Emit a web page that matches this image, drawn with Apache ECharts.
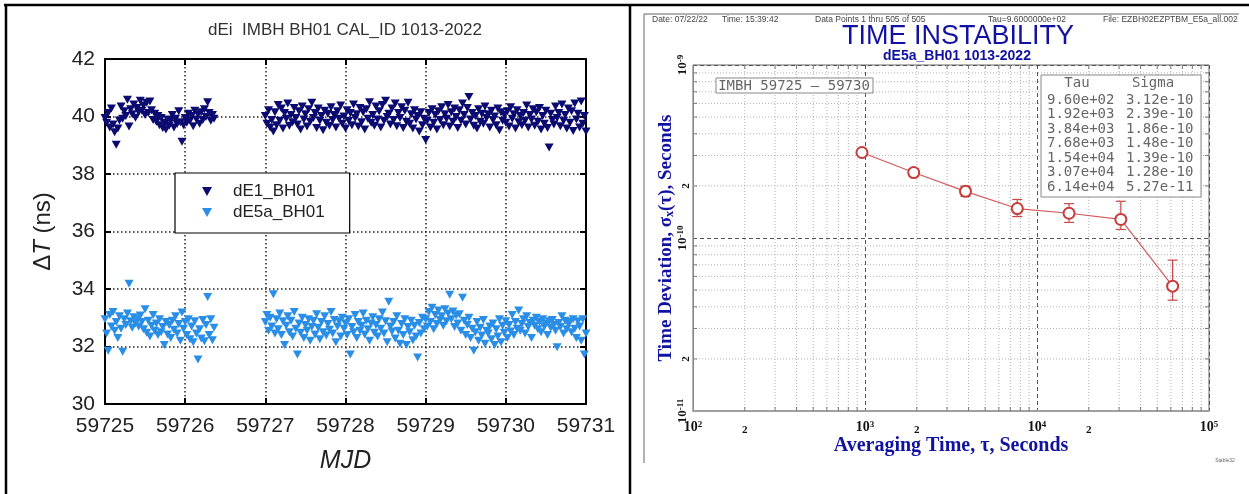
<!DOCTYPE html>
<html>
<head>
<meta charset="utf-8">
<script src="https://cdn.jsdelivr.net/npm/echarts@6/dist/echarts.min.js"></script>
<style>
html, body { margin: 0; padding: 0; background: #fff; }
#chart { width: 1249px; height: 494px; }
</style>
</head>
<body>
<div id="chart"></div>
<script>
// ---- left panel: dEi calibration runs (one point every 0.02 d) ----
var seg1Start = 59725.0;
var seg2Start = 59727.0;
var stepDays = 0.02;
var mjdTicks = [59725, 59726, 59727, 59728, 59729, 59730, 59731];

var dE1Seg1 = [39.95, 39.78, 40.12, 39.62, 40.28, 39.72, 39.45, 39.02, 39.58, 39.86,
  40.35, 39.92, 40.18, 40.02, 40.58, 39.65, 40.25, 40.08, 40.42, 39.96,
  40.30, 40.15, 40.55, 40.20, 40.38, 40.05, 40.48, 40.12, 40.52, 40.22,
  39.88, 40.10, 39.82, 40.02, 39.70, 39.95, 39.60, 39.78, 39.55, 39.90,
  39.68, 39.85, 40.05, 39.62, 39.92, 39.74, 40.18, 39.80, 39.12, 39.70,
  39.95, 39.78, 40.10, 39.85, 40.02, 39.66, 40.20, 39.90, 40.08, 39.75,
  40.15, 39.88, 40.25, 39.98, 40.50, 40.12, 39.85, 40.05, 39.92];

var dE1Seg2 = [40.02, 39.75, 40.22, 39.62, 39.88, 39.48, 40.15, 39.70, 40.40, 39.85,
  40.28, 39.58, 40.12, 39.92, 40.45, 39.68, 40.05, 39.80, 40.30, 39.95,
  39.72, 40.18, 39.55, 40.35, 39.90, 40.08, 39.65, 40.25, 39.82, 40.48,
  39.95, 40.12, 39.60, 40.28, 39.85, 40.02, 39.52, 40.20, 39.78, 40.10,
  39.68, 40.32, 39.88, 40.05, 39.62, 40.18, 39.92, 40.38, 39.75, 40.00,
  39.58, 40.22, 39.85, 40.12, 39.70, 40.42, 39.95, 40.08, 39.65, 40.30,
  39.80, 40.15, 39.55, 40.25, 39.92, 40.50, 39.78, 40.05, 39.68, 40.35,
  39.90, 40.18, 39.62, 40.40, 39.85, 40.55, 39.98, 40.10, 39.72, 40.28,
  39.88, 40.45, 39.66, 40.12, 39.95, 40.32, 39.60, 40.20, 39.82, 40.48,
  39.75, 40.08, 39.58, 40.22, 39.90, 40.02, 39.48, 40.15, 39.70, 39.92,
  39.18, 39.85, 40.12, 39.62, 40.25, 39.78, 40.05, 39.55, 40.18, 39.88,
  40.32, 39.70, 40.08, 39.92, 40.40, 39.65, 40.15, 39.82, 40.28, 39.98,
  39.60, 40.22, 39.85, 40.45, 40.05, 39.72, 40.30, 40.68, 39.90, 40.12,
  39.68, 40.02, 39.58, 40.25, 39.82, 40.10, 39.75, 40.35, 39.95, 40.08,
  39.62, 40.20, 39.88, 40.00, 39.70, 40.28, 39.52, 40.15, 39.85, 40.05,
  39.78, 40.18, 39.65, 40.32, 39.92, 40.08, 39.58, 40.22, 39.80, 40.02,
  39.70, 40.12, 39.85, 40.38, 39.62, 40.05, 39.90, 40.25, 39.68, 40.15,
  39.82, 40.30, 39.55, 40.02, 39.75, 40.20, 39.60, 38.92, 40.10, 39.88,
  39.72, 40.35, 39.95, 40.12, 39.66, 40.42, 39.85, 40.05, 39.58, 40.28,
  39.78, 40.18, 39.50, 40.45, 39.90, 40.10, 39.62, 40.52, 39.75, 40.02,
  39.48];

var dE5aSeg1 = [32.95, 32.45, 31.85, 33.10, 32.70, 33.20, 32.55, 32.85, 32.30, 33.05,
  32.62, 31.82, 32.95, 32.75, 33.15, 34.18, 32.88, 32.65, 33.02, 32.80,
  32.95, 32.70, 33.08, 32.85, 32.60, 33.30, 32.48, 32.90, 32.35, 32.72,
  33.10, 32.55, 32.80, 32.40, 32.95, 32.50, 32.68, 32.05, 32.85, 32.42,
  32.75, 32.30, 32.90, 32.58, 33.05, 32.45, 32.78, 32.20, 33.18, 32.62,
  32.85, 32.40, 32.95, 32.25, 32.70, 32.15, 32.88, 32.45, 31.55, 32.60,
  32.28, 32.92, 32.18, 32.75, 33.72, 32.40, 32.95, 32.22, 32.65];

var dE5aSeg2 = [32.85, 33.10, 32.55, 33.00, 32.70, 33.82, 32.45, 32.95, 32.60, 33.15,
  32.40, 32.88, 32.05, 32.72, 33.05, 32.50, 32.90, 32.35, 33.20, 32.62,
  31.72, 32.80, 32.48, 33.00, 32.30, 32.75, 32.55, 32.95, 32.20, 32.68,
  32.90, 32.42, 33.12, 32.65, 32.25, 32.85, 32.50, 33.05, 32.38, 32.78,
  32.58, 33.20, 32.45, 32.92, 32.15, 32.70, 32.88, 32.35, 33.00, 32.62,
  32.80, 32.40, 32.95, 31.72, 32.68, 32.50, 33.10, 32.30, 32.85, 32.55,
  32.72, 33.15, 32.42, 32.90, 32.60, 32.20, 32.80, 33.02, 32.48, 32.75,
  32.35, 32.95, 32.62, 33.18, 32.45, 32.88, 32.15, 33.56, 32.70, 32.52,
  32.85, 32.28, 33.05, 32.55, 32.10, 32.78, 32.40, 32.95, 32.05, 32.68,
  32.50, 32.90, 32.22, 32.72, 32.35, 31.62, 32.82, 32.45, 33.00, 32.60,
  32.95, 32.70, 33.20, 32.85, 33.35, 32.60, 33.10, 32.78, 33.25, 32.92,
  33.05, 32.72, 33.30, 32.88, 33.15, 33.80, 32.95, 33.22, 32.68, 33.08,
  32.80, 33.12, 32.55, 33.70, 32.90, 32.40, 32.75, 33.00, 32.30, 32.62,
  31.85, 32.50, 32.85, 32.20, 32.65, 32.38, 32.92, 32.10, 32.55, 32.45,
  32.70, 32.25, 32.80, 32.05, 32.60, 32.35, 32.95, 32.15, 32.72, 32.48,
  32.88, 32.30, 32.75, 32.52, 33.10, 32.40, 32.85, 32.62, 33.25, 32.55,
  32.78, 32.95, 32.45, 33.05, 32.68, 32.82, 32.30, 32.90, 32.72, 33.00,
  32.60, 32.85, 32.50, 32.95, 32.70, 32.80, 32.40, 32.88, 32.65, 32.92,
  32.75, 32.55, 31.97, 32.82, 32.68, 33.05, 32.45, 32.90, 32.60, 32.78,
  32.85, 32.50, 32.95, 32.62, 32.30, 32.88, 32.70, 32.20, 32.95, 31.72,
  32.45];

// ---- right panel: Stable32 TDEV ----
var tauValues = [960, 1920, 3840, 7680, 15360, 30720, 61440];
var sigmaValues = [3.12e-10, 2.39e-10, 1.86e-10, 1.48e-10, 1.39e-10, 1.28e-10, 5.27e-11];
var sigmaLow = [3.00e-10, 2.27e-10, 1.74e-10, 1.33e-10, 1.23e-10, 1.12e-10, 4.37e-11];
var sigmaHigh = [3.25e-10, 2.52e-10, 1.99e-10, 1.67e-10, 1.58e-10, 1.63e-10, 7.45e-11];
var tauDecades = [100, 1000, 10000];
var sigmaDecades = [1e-11, 1e-10];
var mantissas = [2, 3, 4, 5, 6, 7, 8, 9];

var navy = '#0a0a70';
var sky = '#2a8ee6';
var stableBlue = '#1212a2';
var red = '#c83c3c';
var triangle = 'path://M0,0L10,0L5,9Z';

function seriesPoints(start, ys) {
  var out = [];
  for (var i = 0; i < ys.length; i++) {
    out.push([Math.round((start + i * stepDays) * 1000) / 1000, ys[i]]);
  }
  return out;
}

function sci(v) {
  var p = v.toExponential(2).split('e');
  var e = parseInt(p[1], 10);
  return p[0] + 'e' + (e < 0 ? '-' : '+') + (Math.abs(e) < 10 ? '0' : '') + Math.abs(e);
}

var xMinor = [], yMinor = [];
tauDecades.forEach(function (d) {
  mantissas.forEach(function (m) { xMinor.push([d * m, 1e-10, m]); });
});
sigmaDecades.forEach(function (d) {
  mantissas.forEach(function (m) { yMinor.push([1000, d * m, m]); });
});

var errData = tauValues.map(function (t, i) { return [t, sigmaLow[i], sigmaHigh[i]]; });
var tdevData = tauValues.map(function (t, i) { return [t, sigmaValues[i]]; });

function minorX(params, api) {
  var v = api.value(0);
  var top = api.coord([v, 1e-9]);
  var bot = api.coord([v, 1e-11]);
  var kids = [
    { type: 'line', shape: { x1: top[0], y1: top[1], x2: bot[0], y2: bot[1] },
      style: { stroke: '#b0b0b0', lineWidth: 1, lineDash: [1, 2] } },
    { type: 'line', shape: { x1: bot[0], y1: bot[1], x2: bot[0], y2: bot[1] - 4 },
      style: { stroke: '#777', lineWidth: 1 } },
    { type: 'line', shape: { x1: top[0], y1: top[1], x2: top[0], y2: top[1] + 4 },
      style: { stroke: '#777', lineWidth: 1 } }
  ];
  if (api.value(2) === 2) {
    kids.push({ type: 'text', x: bot[0], y: bot[1] + 19,
      style: { text: '2', fill: '#111', font: 'bold 11px "Liberation Serif"', align: 'center', verticalAlign: 'middle' } });
  }
  return { type: 'group', children: kids };
}

function minorY(params, api) {
  var v = api.value(1);
  var l = api.coord([100, v]);
  var r = api.coord([100000, v]);
  var kids = [
    { type: 'line', shape: { x1: l[0], y1: l[1], x2: r[0], y2: r[1] },
      style: { stroke: '#b0b0b0', lineWidth: 1, lineDash: [1, 2] } },
    { type: 'line', shape: { x1: l[0], y1: l[1], x2: l[0] + 4, y2: l[1] },
      style: { stroke: '#777', lineWidth: 1 } },
    { type: 'line', shape: { x1: r[0], y1: r[1], x2: r[0] - 4, y2: r[1] },
      style: { stroke: '#777', lineWidth: 1 } }
  ];
  if (api.value(2) === 2) {
    kids.push({ type: 'text', x: l[0] - 7, y: l[1], rotation: Math.PI / 2,
      style: { text: '2', fill: '#111', font: 'bold 11px "Liberation Serif"', align: 'center', verticalAlign: 'middle' } });
  }
  return { type: 'group', children: kids };
}

function errorBar(params, api) {
  var t = api.value(0);
  var lo = api.coord([t, api.value(1)]);
  var hi = api.coord([t, api.value(2)]);
  var st = { stroke: '#c84848', lineWidth: 1.2 };
  return { type: 'group', children: [
    { type: 'line', shape: { x1: lo[0], y1: lo[1], x2: hi[0], y2: hi[1] }, style: st },
    { type: 'line', shape: { x1: lo[0] - 5, y1: lo[1], x2: lo[0] + 5, y2: lo[1] }, style: st },
    { type: 'line', shape: { x1: hi[0] - 5, y1: hi[1], x2: hi[0] + 5, y2: hi[1] }, style: st }
  ] };
}

function logLabel(v) {
  return '10{s|' + Math.round(Math.log10(v)) + '}';
}

// graphic texts of the Stable32 page
var smallFont = '8.5px "Liberation Sans"';
var monoFont = '14px "DejaVu Sans Mono"';
var graphics = [
  { type: 'line', shape: { x1: 4, y1: 5, x2: 1249, y2: 5 }, style: { stroke: '#000', lineWidth: 2.5 } },
  { type: 'line', shape: { x1: 6, y1: 5, x2: 6, y2: 494 }, style: { stroke: '#000', lineWidth: 2.5 } },
  { type: 'line', shape: { x1: 630, y1: 5, x2: 630, y2: 494 }, style: { stroke: '#000', lineWidth: 2.5 } },
  { type: 'line', shape: { x1: 644, y1: 14, x2: 1239, y2: 14 }, style: { stroke: '#666', lineWidth: 1 } },
  { type: 'line', shape: { x1: 644, y1: 14, x2: 644, y2: 463 }, style: { stroke: '#666', lineWidth: 1 } },
  { type: 'text', x: 345, y: 30, style: { text: 'dEi  IMBH BH01 CAL_ID 1013-2022', font: '17px "Liberation Sans"', fill: '#333', align: 'center', verticalAlign: 'middle' } },
  { type: 'text', x: 652, y: 20, style: { text: 'Date: 07/22/22', font: smallFont, fill: '#444', verticalAlign: 'middle' } },
  { type: 'text', x: 722, y: 20, style: { text: 'Time: 15:39:42', font: smallFont, fill: '#444', verticalAlign: 'middle' } },
  { type: 'text', x: 815, y: 20, style: { text: 'Data Points 1 thru 505 of 505', font: smallFont, fill: '#444', verticalAlign: 'middle' } },
  { type: 'text', x: 988, y: 20, style: { text: 'Tau=9.6000000e+02', font: smallFont, fill: '#444', verticalAlign: 'middle' } },
  { type: 'text', x: 1103, y: 20, style: { text: 'File: EZBH02EZPTBM_E5a_all.002', font: smallFont, fill: '#444', verticalAlign: 'middle' } },
  { type: 'text', x: 958, y: 37, style: { text: 'TIME INSTABILITY', font: '27px "Liberation Sans"', fill: stableBlue, align: 'center', verticalAlign: 'middle' } },
  { type: 'text', x: 957, y: 56, style: { text: 'dE5a_BH01 1013-2022', font: 'bold 14px "Liberation Sans"', fill: stableBlue, align: 'center', verticalAlign: 'middle' } },
  { type: 'rect', shape: { x: 716, y: 78, width: 157, height: 15 }, style: { fill: '#fff', stroke: '#888', lineWidth: 1 } },
  { type: 'text', x: 794, y: 86, style: { text: 'IMBH 59725 \u2013 59730', font: monoFont, fill: '#666', align: 'center', verticalAlign: 'middle' } },
  { type: 'rect', shape: { x: 1041, y: 75, width: 160, height: 122 }, style: { fill: '#fff', stroke: '#888', lineWidth: 1 } },
  { type: 'text', x: 1077, y: 83, style: { text: 'Tau', font: monoFont, fill: '#666', align: 'center', verticalAlign: 'middle' } },
  { type: 'text', x: 1153, y: 83, style: { text: 'Sigma', font: monoFont, fill: '#666', align: 'center', verticalAlign: 'middle' } },
  { type: 'text', x: 1225, y: 461, style: { text: 'Stable32', font: '5px "Liberation Sans"', fill: '#666', align: 'center', verticalAlign: 'middle' } }
];
tauValues.forEach(function (t, i) {
  graphics.push({ type: 'text', x: 1047, y: 100 + i * 14.5, style: { text: sci(t), font: monoFont, fill: '#666', verticalAlign: 'middle' } });
  graphics.push({ type: 'text', x: 1126, y: 100 + i * 14.5, style: { text: sci(sigmaValues[i]), font: monoFont, fill: '#666', verticalAlign: 'middle' } });
});

var leftLabel = { fontFamily: 'Liberation Sans', fontSize: 21, color: '#222', formatter: function (v) { return String(v); } };
var dotted = { show: true, lineStyle: { color: '#222', width: 1.5, type: [1.5, 2.5] } };
var blackLine = { show: true, lineStyle: { color: '#000', width: 2 } };
var inTicks = { show: true, inside: true, length: 6, lineStyle: { color: '#000', width: 2 } };

var chart = echarts.init(document.getElementById('chart'));
chart.setOption({
  animation: false,
  backgroundColor: '#fff',
  legend: {
    data: [
      { name: 'dE1_BH01', icon: triangle },
      { name: 'dE5a_BH01', icon: triangle }
    ],
    orient: 'vertical', left: 175, top: 173,
    padding: [10, 25, 12, 27], itemGap: 4, itemWidth: 10, itemHeight: 9,
    borderColor: '#000', borderWidth: 1.2, backgroundColor: '#fff',
    formatter: function (n) { return '{n|' + n + '}'; },
    textStyle: { fontFamily: 'Liberation Sans', fontSize: 17, color: '#222',
      rich: { n: { fontFamily: 'Liberation Sans', fontSize: 17, color: '#222', padding: [0, 0, 0, 16] } } }
  },
  grid: [
    { left: 105, top: 59, width: 481, height: 345, outerBoundsMode: 'none' },
    { left: 693, top: 65, width: 516, height: 346, outerBoundsMode: 'none',
      show: true, borderColor: '#666', borderWidth: 1 }
  ],
  xAxis: [
    { type: 'value', gridIndex: 0, min: mjdTicks[0], max: mjdTicks[mjdTicks.length - 1], interval: 1,
      name: 'MJD', nameLocation: 'middle', nameGap: 45, nameMoveOverlap: false,
      nameTextStyle: { fontFamily: 'Liberation Sans', fontSize: 25, fontStyle: 'italic', color: '#222' },
      axisLine: blackLine, axisTick: inTicks, splitLine: dotted,
      axisLabel: Object.assign({ margin: 12 }, leftLabel) },
    { type: 'value', gridIndex: 0, position: 'top', min: mjdTicks[0], max: mjdTicks[mjdTicks.length - 1], interval: 1,
      axisLine: blackLine, axisTick: inTicks, splitLine: { show: false }, axisLabel: { show: false } },
    { type: 'log', logBase: 10, gridIndex: 1, min: 100, max: 100000,
      name: 'Averaging Time, \u03c4, Seconds', nameLocation: 'middle', nameGap: 25, nameMoveOverlap: false,
      nameTextStyle: { fontFamily: 'Liberation Serif', fontSize: 20, fontWeight: 'bold', color: stableBlue },
      axisLine: { show: true, lineStyle: { color: '#a0a0a0', width: 2 } },
      axisTick: { show: false },
      splitLine: { show: true, lineStyle: { color: '#555', width: 1, type: [4, 3] } },
      axisLabel: { margin: 9, color: '#111', fontFamily: 'Liberation Serif', fontSize: 14, fontWeight: 'bold',
        showMinLabel: true, showMaxLabel: true, formatter: logLabel,
        rich: { s: { fontFamily: 'Liberation Serif', fontSize: 9, fontWeight: 'bold', color: '#111', verticalAlign: 'top', lineHeight: 8 } } } }
  ],
  yAxis: [
    { type: 'value', gridIndex: 0, min: 30, max: 42, interval: 2,
      name: '{a|\u0394}{b|T}{a| (ns)}', nameLocation: 'middle', nameGap: 50, nameMoveOverlap: false,
      nameTextStyle: { fontFamily: 'Liberation Sans', fontSize: 24, color: '#222',
        rich: { a: { fontFamily: 'Liberation Sans', fontSize: 24, color: '#222' },
                b: { fontFamily: 'Liberation Sans', fontSize: 24, fontStyle: 'italic', color: '#222' } } },
      axisLine: blackLine, axisTick: inTicks, splitLine: dotted,
      axisLabel: Object.assign({ margin: 10 }, leftLabel) },
    { type: 'value', gridIndex: 0, position: 'right', min: 30, max: 42, interval: 2,
      axisLine: blackLine, axisTick: inTicks, splitLine: { show: false }, axisLabel: { show: false } },
    { type: 'log', logBase: 10, gridIndex: 1, min: 1e-11, max: 1e-9,
      name: 'Time Deviation, \u03c3{s|x}(\u03c4), Seconds', nameLocation: 'middle', nameGap: 17, nameMoveOverlap: false,
      nameTextStyle: { fontFamily: 'Liberation Serif', fontSize: 19, fontWeight: 'bold', color: stableBlue,
        rich: { s: { fontFamily: 'Liberation Serif', fontSize: 12, fontWeight: 'bold', color: stableBlue, verticalAlign: 'bottom', lineHeight: 12 } } },
      axisLine: { show: true, lineStyle: { color: '#888', width: 1 } },
      axisTick: { show: false },
      splitLine: { show: true, lineStyle: { color: '#555', width: 1, type: [4, 3] } },
      axisLabel: { margin: 4, rotate: 90, color: '#111', fontFamily: 'Liberation Serif', fontSize: 13, fontWeight: 'bold',
        showMinLabel: true, showMaxLabel: true, formatter: logLabel,
        rich: { s: { fontFamily: 'Liberation Serif', fontSize: 9, fontWeight: 'bold', color: '#111', verticalAlign: 'top', lineHeight: 8 } } } }
  ],
  series: [
    { name: 'dE1_BH01', type: 'scatter', xAxisIndex: 0, yAxisIndex: 0,
      symbol: triangle, symbolSize: [9, 8], itemStyle: { color: navy, opacity: 1 },
      data: seriesPoints(seg1Start, dE1Seg1).concat(seriesPoints(seg2Start, dE1Seg2)) },
    { name: 'dE5a_BH01', type: 'scatter', xAxisIndex: 0, yAxisIndex: 0,
      symbol: triangle, symbolSize: [9, 8], itemStyle: { color: sky, opacity: 1 },
      data: seriesPoints(seg1Start, dE5aSeg1).concat(seriesPoints(seg2Start, dE5aSeg2)) },
    { name: 'xminor', type: 'custom', xAxisIndex: 2, yAxisIndex: 2, silent: true, clip: false, z: 1,
      renderItem: minorX, data: xMinor },
    { name: 'yminor', type: 'custom', xAxisIndex: 2, yAxisIndex: 2, silent: true, clip: false, z: 1,
      renderItem: minorY, data: yMinor },
    { name: 'errors', type: 'custom', xAxisIndex: 2, yAxisIndex: 2, silent: true, clip: false, z: 3,
      renderItem: errorBar, data: errData },
    { name: 'TDEV', type: 'line', xAxisIndex: 2, yAxisIndex: 2, z: 4,
      symbol: 'emptyCircle', symbolSize: 11, showAllSymbol: true,
      itemStyle: { color: red, borderColor: red, borderWidth: 1.2 },
      lineStyle: { color: '#d45a5a', width: 1.2 },
      data: tdevData }
  ],
  graphic: { elements: graphics.map(function (g) { g.z = 100; return g; }) }
});
</script>
</body>
</html>
